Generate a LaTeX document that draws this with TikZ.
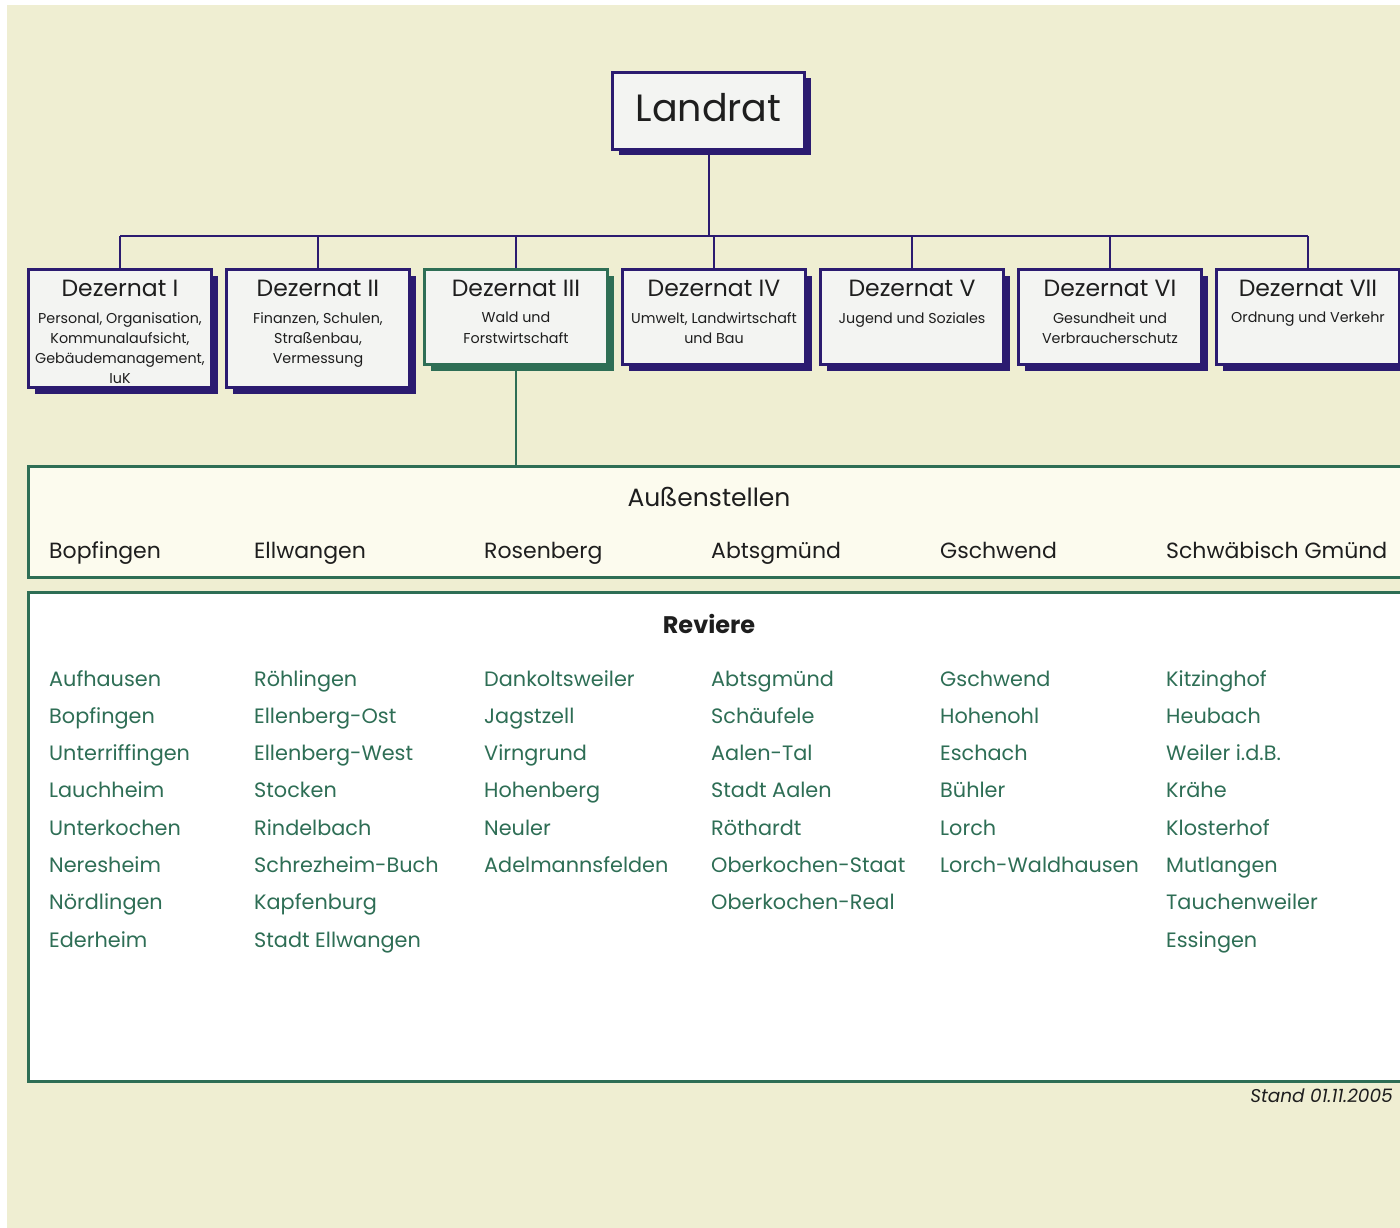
\documentclass[tikz,border=0pt]{standalone}
\usepackage{fontspec}
\setmainfont{Poppins}
\usetikzlibrary{positioning,shadows}
\definecolor{navy}{RGB}{43,27,112}
\definecolor{dgreen}{RGB}{46,110,85}
\definecolor{beige}{RGB}{239,238,210}
\definecolor{boxfill}{RGB}{243,244,242}
\definecolor{cream}{RGB}{252,251,238}
\definecolor{txt}{RGB}{30,30,30}
\tikzset{
  dezbox/.style={draw=#1, line width=3pt, fill=boxfill, minimum width=183pt, anchor=north west, inner sep=0pt,
    drop shadow={shadow xshift=6pt, shadow yshift=-6pt, fill=#1, opacity=1}},
  dezname/.style={anchor=base, text=txt, font=\fontsize{23.5}{27}\selectfont},
  dezsub/.style={anchor=north, align=center, inner sep=0pt, text=txt, font=\fontsize{14.3}{20.3}\selectfont},
  greenbox/.style={draw=dgreen, line width=3pt, anchor=north west, inner sep=0pt, minimum width=1400pt},
  place/.style={anchor=base west, inner sep=0pt, text=txt, font=\fontsize{22}{26}\selectfont},
  revier/.style={anchor=base west, inner sep=0pt, text=dgreen, font=\fontsize{20.8}{25}\selectfont},
  conn/.style={draw=navy, line width=2pt}
}

\begin{document}
\begin{tikzpicture}[x=1pt, y=-1pt]

% background
\useasboundingbox (0,0) rectangle (1400,1228);
\clip (0,0) rectangle (1400,1228);
\fill[white] (0,0) rectangle (1400,1228);
\fill[beige] (7,5) rectangle (1400,1228);

% Landrat
\node[dezbox=navy, minimum width=192pt, minimum height=77pt] (landrat) at (611,71) {};
\node[anchor=base, text=txt, font=\fontsize{38}{44}\selectfont] (landrattxt) at (landrat.center |- 0,122) {Landrat};

% Dezernate
\foreach \i/\num/\h/\col/\sub in {
    1/I/118/navy/{Personal, Organisation,\\Kommunalaufsicht,\\Gebäudemanagement,\\IuK},
    2/II/118/navy/{Finanzen, Schulen,\\Straßenbau,\\Vermessung},
    3/III/95/dgreen/{Wald und\\Forstwirtschaft},
    4/IV/95/navy/{Umwelt, Landwirtschaft\\und Bau},
    5/V/95/navy/{Jugend und Soziales},
    6/VI/95/navy/{Gesundheit und\\Verbraucherschutz},
    7/VII/95/navy/{Ordnung und Verkehr}} {
  \node[dezbox=\col, minimum height=\h pt] (dz\i) at ({27+198*(\i-1)},268) {};
  \node[dezname] (dzt\i) at (dz\i.north |- 0,296) {Dezernat \num};
  \node[dezsub] (dzs\i) at (dz\i.north |- 0,312) {\sub};
}

% Linien
\coordinate (bus) at (0,236);
\draw[conn] (landrat.south) -- (landrat.south |- bus);
\draw[conn] (dz1.north |- bus) -- (dz7.north |- bus);
\foreach \i in {1,...,7}
  \draw[conn] (dz\i.north) -- (dz\i.north |- bus);

% Aussenstellen
\node[greenbox, fill=cream, minimum height=111pt] (aussen) at (27,465) {};
\draw[conn, draw=dgreen] (dz3.south) -- (dz3.south |- aussen.north);
\node[anchor=base, text=txt, font=\fontsize{25}{30}\selectfont] (aussentitle) at (709,506) {Außenstellen};
\foreach \x/\name [count=\c] in {49/Bopfingen, 254/Ellwangen, 484/Rosenberg, 711/Abtsgmünd, 940/Gschwend, 1166/Schwäbisch Gmünd}
  \node[place] (as\c) at (\x,558) {\name};

% Reviere
\node[greenbox, fill=white, minimum height=489pt] (reviere) at (27,591) {};
\node[anchor=base, text=txt, font=\bfseries\fontsize{24}{28}\selectfont] (revtitle) at (709,633) {Reviere};
\foreach \x/\list [count=\c] in {
    49/{Aufhausen,Bopfingen,Unterriffingen,Lauchheim,Unterkochen,Neresheim,Nördlingen,Ederheim},
    254/{Röhlingen,Ellenberg-Ost,Ellenberg-West,Stocken,Rindelbach,Schrezheim-Buch,Kapfenburg,Stadt Ellwangen},
    484/{Dankoltsweiler,Jagstzell,Virngrund,Hohenberg,Neuler,Adelmannsfelden},
    711/{Abtsgmünd,Schäufele,Aalen-Tal,Stadt Aalen,Röthardt,Oberkochen-Staat,Oberkochen-Real},
    940/{Gschwend,Hohenohl,Eschach,Bühler,Lorch,Lorch-Waldhausen},
    1166/{Kitzinghof,Heubach,Weiler i.d.B.,Krähe,Klosterhof,Mutlangen,Tauchenweiler,Essingen}} {
  \foreach \name [count=\r] in \list
    \node[revier] (rev\c-\r) at (\x,{686+37.3*(\r-1)}) {\name};
}

% Stand
\node[anchor=base east, inner sep=0pt, text=txt, font=\itshape\fontsize{18.5}{22}\selectfont] (stand) at (1393,1102) {Stand 01.11.2005};

\end{tikzpicture}
\end{document}
